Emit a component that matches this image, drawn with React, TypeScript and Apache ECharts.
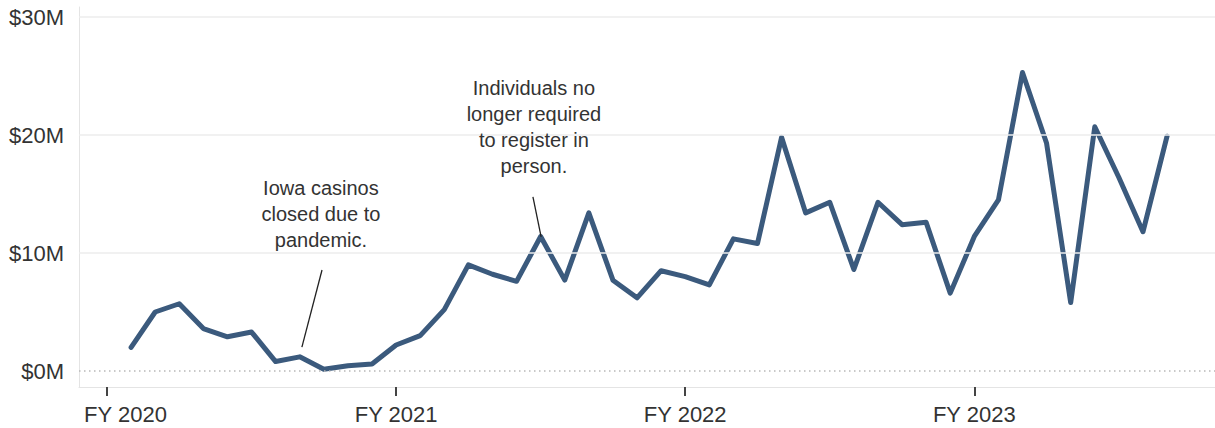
import React, { useEffect, useRef } from "react";
import * as echarts from "echarts";

// Monthly data (Aug 2019 – Mar 2023), values in $M
const months: string[] = [
  "2019-08", "2019-09", "2019-10", "2019-11", "2019-12",
  "2020-01", "2020-02", "2020-03", "2020-04", "2020-05", "2020-06", "2020-07",
  "2020-08", "2020-09", "2020-10", "2020-11", "2020-12",
  "2021-01", "2021-02", "2021-03", "2021-04", "2021-05", "2021-06", "2021-07",
  "2021-08", "2021-09", "2021-10", "2021-11", "2021-12",
  "2022-01", "2022-02", "2022-03", "2022-04", "2022-05", "2022-06", "2022-07",
  "2022-08", "2022-09", "2022-10", "2022-11", "2022-12",
  "2023-01", "2023-02", "2023-03",
];
const values: number[] = [
  2.0, 5.0, 5.7, 3.6, 2.9,
  3.3, 0.8, 1.2, 0.15, 0.45, 0.6, 2.2,
  3.0, 5.2, 9.0, 8.2, 7.6,
  11.4, 7.7, 13.4, 7.7, 6.2, 8.5, 8.0,
  7.3, 11.2, 10.8, 19.8, 13.4,
  14.3, 8.6, 14.3, 12.4, 12.6, 6.6, 11.4,
  14.5, 25.3, 19.3, 5.8, 20.7,
  16.4, 11.8, 19.9,
];
const fyStarts: string[] = ["2019-07", "2020-07", "2021-07", "2022-07"];
const fyLabels: string[] = ["FY 2020", "FY 2021", "FY 2022", "FY 2023"];
const yTicks: number[] = [0, 10, 20, 30];
const annotationTexts: string[] = [
  "Iowa casinos\nclosed due to\npandemic.",
  "Individuals no\nlonger required\nto register in\nperson.",
];

const monthIndex = (m: string) => {
  const [y, mo] = m.split("-").map(Number);
  return (y - 2019) * 12 + (mo - 7);
};

export default function App() {
  const ref = useRef<HTMLDivElement>(null);
  useEffect(() => {
    if (!ref.current) return;
    const chart = echarts.init(ref.current, undefined, { renderer: "svg" });
    const fyIdx = fyStarts.map(monthIndex);
    const seriesData = months.map((m, i) => [monthIndex(m), values[i]]);
    const font = "'Liberation Sans', Arial, sans-serif";
    chart.setOption({
      animation: false,
      grid: { left: 79, right: 0, top: 7, bottom: 41, containLabel: false },
      xAxis: {
        type: "value",
        min: -1.162,
        max: 45.99,
        axisLine: { show: true, onZero: false, lineStyle: { color: "#e4e4e4", width: 1 } },
        axisTick: {
          show: true,
          customValues: fyIdx,
          length: 9,
          lineStyle: { color: "#444", width: 2 },
        },
        axisLabel: {
          customValues: fyIdx,
          formatter: (v: number) => {
            const i = fyIdx.indexOf(Math.round(v));
            if (i < 0) return "";
            return i === 0 ? `{first|${fyLabels[i]}}` : fyLabels[i];
          },
          rich: {
            first: { fontSize: 22, fontFamily: font, color: "#333", padding: [0, 0, 0, 37] },
          },
          fontSize: 22,
          fontFamily: font,
          color: "#333",
          margin: 16,
        },
        splitLine: { show: false },
      },
      yAxis: {
        type: "value",
        min: -1.356,
        max: 30.85,
        axisLine: { show: true, onZero: false, lineStyle: { color: "#e4e4e4", width: 1 } },
        axisTick: { show: false },
        axisLabel: {
          customValues: yTicks,
          formatter: (v: number) => `$${v}M`,
          fontSize: 22,
          fontFamily: font,
          color: "#333",
          margin: 15,
        },
        splitLine: { show: false },
      },
      series: [
        {
          type: "line",
          data: [],
          z: 1,
          silent: true,
          markLine: {
            silent: true,
            symbol: "none",
            label: { show: false },
            data: [
              { yAxis: 10, lineStyle: { color: "#ededed", width: 1.5, type: "solid" } },
              { yAxis: 20, lineStyle: { color: "#ededed", width: 1.5, type: "solid" } },
              { yAxis: 30, lineStyle: { color: "#ededed", width: 1.5, type: "solid" } },
              { yAxis: 0, lineStyle: { color: "#b8b8b8", width: 1.5, type: [1.5, 3.5] } },
            ],
          },
        },
        {
          type: "line",
          data: seriesData,
          z: 3,
          showSymbol: false,
          lineStyle: { color: "#3b5a7d", width: 5, join: "round", cap: "round" },
          markLine: {
            silent: true,
            symbol: "none",
            label: { show: false },
            lineStyle: { color: "#222", width: 1.3, type: "solid" },
            data: [
              [{ coord: [8.925, 8.56] }, { coord: [8.09, 2.03] }],
              [{ coord: [17.68, 14.75] }, { coord: [18.02, 11.36] }],
            ],
          },
          markPoint: {
            silent: true,
            symbol: "circle",
            symbolSize: 1,
            itemStyle: { color: "rgba(0,0,0,0)" },
            label: {
              show: true,
              position: "inside",
              fontSize: 20,
              lineHeight: 26,
              fontFamily: font,
              color: "#333",
              align: "center",
            },
            data: [
              { coord: [8.88, 13.3], label: { formatter: annotationTexts[0] } },
              { coord: [17.72, 20.72], label: { formatter: annotationTexts[1] } },
            ],
          },
        },
      ],
    });
    return () => chart.dispose();
  }, []);
  return (
    <div
      ref={ref}
      style={{ position: "fixed", left: 0, top: 0, width: 1215, height: 428, background: "#fff" }}
    />
  );
}
